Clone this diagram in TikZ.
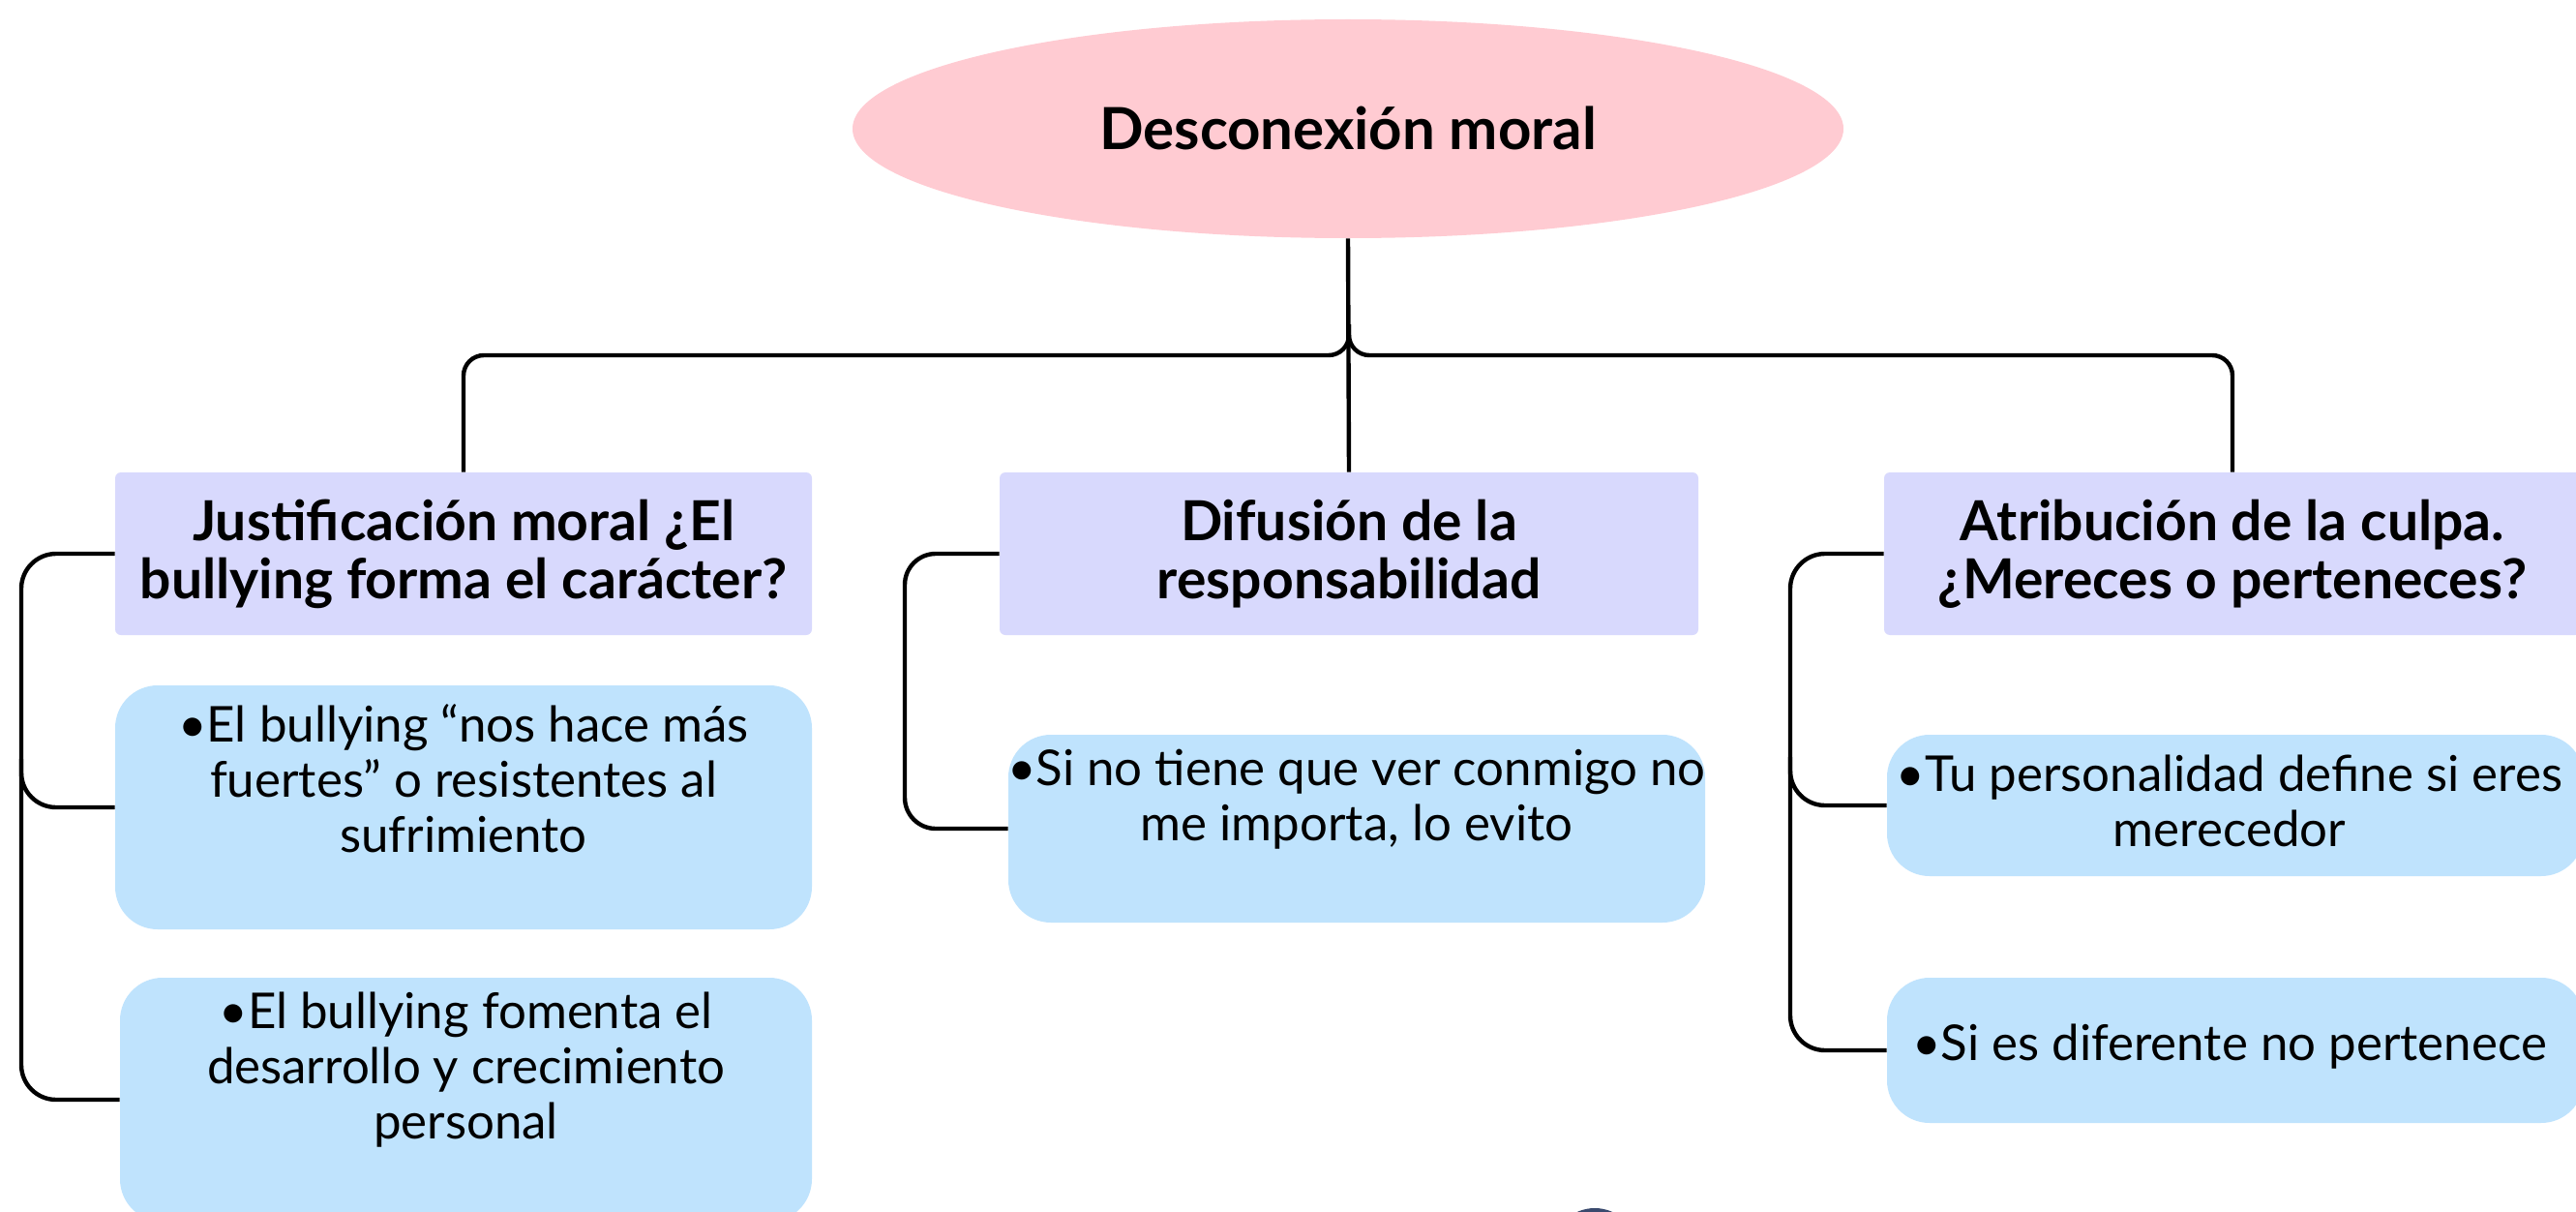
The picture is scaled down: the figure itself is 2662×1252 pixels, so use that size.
\documentclass[tikz,border=0pt]{standalone}
\usepackage{fontspec}
\setmainfont{Lato}
\usetikzlibrary{shapes.geometric,calc}
\definecolor{pinkfill}{RGB}{255,203,210}
\definecolor{lavfill}{RGB}{216,217,253}
\definecolor{bluefill}{RGB}{191,227,253}
\definecolor{logoblue}{RGB}{58,74,110}
\tikzset{
  conn/.style={draw=black,line width=2.2pt},
  header/.style={fill=lavfill,rounded corners=3pt,inner sep=0pt,minimum width=360pt,minimum height=84pt},
  body/.style={fill=bluefill,rounded corners=22pt,inner sep=0pt,minimum width=360pt},
  headtext/.style={align=center,font=\fontsize{28.5}{30}\selectfont\bfseries},
  bodytext/.style={align=center,font=\fontsize{25.5}{28.5}\selectfont},
}
\begin{document}
\begin{tikzpicture}[x=0.5pt,y=-0.5pt]
\useasboundingbox (0,0) rectangle (2662,1252);
\fill[white] (0,0) rectangle (2662,1252);
% central ellipse
\node[ellipse,fill=pinkfill,inner sep=0pt,minimum width=512pt,minimum height=113pt] (E) at (1393,133) {};
\node[font=\fontsize{30}{34}\selectfont\bfseries] (tE) at (1393,132) {Desconexión moral};
% headers
\node[header] (HL) at (479,572) {};
\node[header,minimum width=361pt] (HC) at (1394,572) {};
\node[header] (HR) at (2307,572) {};
\node[headtext] (tHL) at (HL.center) {Justificación moral ¿El\\bullying forma el carácter?};
\node[headtext] (tHC) at (HC.center) {Difusión de la\\responsabilidad};
\node[headtext] (tHR) at (HR.center) {Atribución de la culpa.\\¿Mereces o perteneces?};
% bodies
\node[body,minimum height=126pt] (L1) at (479,834) {};
\node[body,minimum width=357.5pt,minimum height=126pt] (L2) at (481.5,1136) {};
\node[body,minimum height=97pt] (C1) at (1402,856) {};
\node[body,minimum height=73pt] (R1) at (2310,832) {};
\node[body,minimum height=75pt] (R2) at (2310,1085) {};
\node[bodytext] (tL1) at ([yshift=15pt]L1.center) {•El bullying “nos hace más\\fuertes” o resistentes al\\sufrimiento};
\node[bodytext] (tL2) at ([yshift=15.5pt]L2.center) {•El bullying fomenta el\\desarrollo y crecimiento\\personal};
\node[bodytext] (tC1) at ([yshift=15pt]C1.center) {•Si no tiene que ver conmigo no\\me importa, lo evito};
\node[bodytext] (tR1) at ([xshift=-3pt,yshift=2.5pt]R1.center) {•Tu personalidad define si eres\\merecedor};
\node[bodytext] (tR2) at ([xshift=-3pt,yshift=2pt]R2.center) {•Si es diferente no pertenece};
% trunk and top branches
\coordinate (J) at (1394,367);
\coordinate (BL) at (22,0);
\coordinate (BC) at (935,0);
\coordinate (BR) at (1850,0);
\draw[conn] (E.south) -- (HC.north);
\draw[conn,rounded corners=10.5pt] ([yshift=16pt]J) -- (J) -| (HL.north);
\draw[conn,rounded corners=10.5pt] ([yshift=16pt]J) -- (J) -| (HR.north);
% left bracket
\draw[conn,rounded corners=18pt] (HL.west) -- (HL.west -| BL) -- (L2.west -| BL) -- (L2.west);
\draw[conn,rounded corners=18pt] ([yshift=25pt]L1.west -| BL) -- (L1.west -| BL) -- (L1.west);
% centre bracket
\draw[conn,rounded corners=16pt] (HC.west) -- (HC.west -| BC) -- (C1.west -| BC) -- (C1.west);
% right bracket
\draw[conn,rounded corners=18pt] (HR.west) -- (HR.west -| BR) -- (R2.west -| BR) -- (R2.west);
\draw[conn,rounded corners=18pt] ([yshift=25pt]R1.west -| BR) -- (R1.west -| BR) -- (R1.west);
% partial logo at bottom edge
\draw[logoblue,line width=2pt] (1648,1292) circle[radius=21pt];
\end{tikzpicture}
\end{document}
